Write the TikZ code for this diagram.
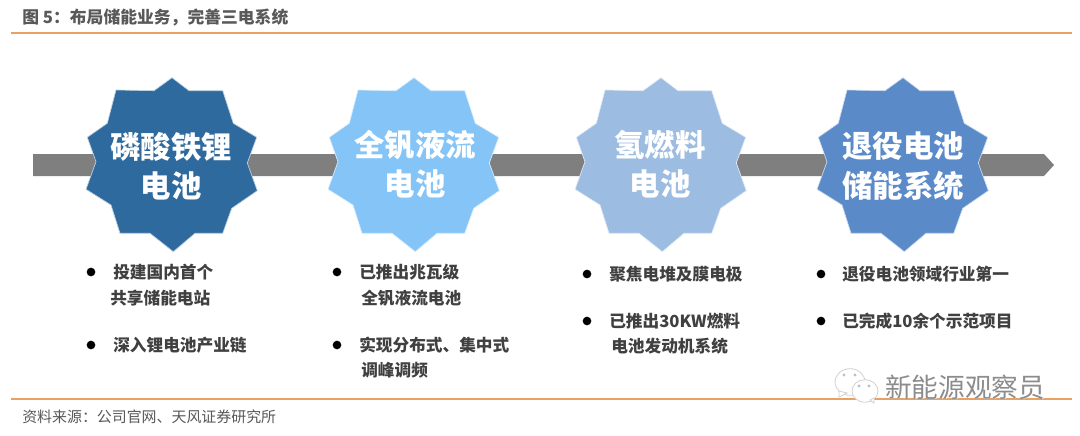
\documentclass[tikz,border=0pt]{standalone}
\usepackage{fontspec}
\setmainfont{Noto Sans CJK SC}
\usetikzlibrary{shapes.geometric}
\definecolor{ruleor}{HTML}{E9A063}
\definecolor{barg}{HTML}{7F7F7F}
\definecolor{txtg}{HTML}{404040}
\definecolor{capg}{HTML}{595959}
\definecolor{sa}{HTML}{2E6A9E}
\definecolor{sb}{HTML}{85C4F7}
\definecolor{sc}{HTML}{9DBCE2}
\definecolor{sd}{HTML}{5B8AC9}
\newcommand{\mystar}[2]{%
\fill[#2,draw=white!70!#2,line width=0.5pt,shift={(#1,0)}]
 (0,77.7)--(17,90.7)--(50.7,90.7)--(61.3,123.3)--(84.7,137.3)--(75.3,163)--(85.3,190.7)--(59.7,208.3)--(50.7,233.3)--(23,233.3)--(1.3,251.7)--(-22,233.3)--(-52,233.3)--(-61,205)--(-86,189.3)--(-76,161.7)--(-84.7,137.3)--(-64.7,123.3)--(-56,90)--(-18,90.7)--cycle;}
\tikzset{
 x=0.75pt,y=-0.75pt,
 startext/.style={white,font=\fontsize{22.8pt}{29.5pt}\selectfont\bfseries,align=center,inner sep=0pt},
 bodytext/.style={txtg,font=\fontsize{12.5pt}{18pt}\selectfont\bfseries,anchor=west,align=left,inner sep=0pt},
 bulletdot/.style={circle,fill=black,inner sep=0pt,minimum size=6.5pt},
 rulel/.style={ruleor,line width=1.4pt},
 wm/.style={font=\fontsize{20pt}{20pt}\selectfont,inner sep=0pt},
 bubble/.style={ellipse,draw=black!18,fill=white,line width=0.6pt,inner sep=0pt},
}
\begin{document}
\begin{tikzpicture}
\useasboundingbox (0,0) rectangle (1080,435);
\fill[white] (0,0) rectangle (1080,435);
% title
\node[anchor=west,inner sep=0pt,capg,font=\fontsize{12.6pt}{14pt}\selectfont\bfseries] (title) at (22,18) {图 5：布局储能业务，完善三电系统};
\coordinate (t1) at (11,33); \coordinate (t2) at (1072,33);
\draw[rulel] (t1)--(t2);
% bar
\fill[barg] (33,154)--(1044,154)--(1054,165)--(1044,176)--(33,176)--cycle;
% stars
\mystar{172}{sa}
\mystar{414}{sb}
\mystar{661}{sc}
\mystar{903}{sd}
\node[startext] (s1) at (171,166) {磷酸铁锂\\电池};
\node[startext] (s2) at (415,164) {全钒液流\\电池};
\node[startext] (s3) at (660,164) {氢燃料\\电池};
\node[startext] (s4) at (903,166) {退役电池\\储能系统};
% bullets
\node[bulletdot] (b1) at (91,272) {};
\node[bodytext] (l1) at (113,272) {投建国内首个};
\node[bodytext] (l1b) at (110,298) {共享储能电站};
\node[bulletdot] (b2) at (91,345) {};
\node[bodytext] (l2) at (113,345) {深入锂电池产业链};
\node[bulletdot] (b3) at (337,272) {};
\node[bodytext] (l3) at (359,272) {已推出兆瓦级};
\node[bodytext] (l3b) at (361,298) {全钒液流电池};
\node[bulletdot] (b4) at (337,345) {};
\node[bodytext] (l4) at (359,345) {实现分布式、集中式};
\node[bodytext] (l4b) at (361,370) {调峰调频};
\node[bulletdot] (b5) at (587,274) {};
\node[bodytext] (l5) at (609,274) {聚焦电堆及膜电极};
\node[bulletdot] (b6) at (587,321) {};
\node[bodytext] (l6) at (609,321) {已推出30KW燃料};
\node[bodytext] (l6b) at (611,346) {电池发动机系统};
\node[bulletdot] (b7) at (821,274) {};
\node[bodytext] (l7) at (842,274) {退役电池领域行业第一};
\node[bulletdot] (b8) at (821,321) {};
\node[bodytext] (l8) at (842,321) {已完成10余个示范项目};
% bottom rule and watermark
\coordinate (r1) at (11,399); \coordinate (r2) at (1072,399);
\draw[rulel] (r1)--(r2);
\node[bubble,minimum width=22.5pt,minimum height=20pt] (w1) at (850,382) {};
\fill[white,draw=black!18,line width=0.6pt] (839,391)--(839,397)--(847,393)--cycle;
\node[bubble,minimum width=19.5pt,minimum height=17pt] (w2) at (865,391) {};
\fill[white,draw=black!18,line width=0.6pt] (870,400)--(874,403)--(874,398)--cycle;
\foreach \p in {(844,375),(855,375),(859,386),(869,386)} \fill[black!25] \p circle (1.7);
\node[wm,white,anchor=west] (wm2) at (885.7,387.7) {新能源观察员};
\node[wm,black!45,anchor=west] (wm1) at (885,387) {新能源观察员};
% source
\node[anchor=west,inner sep=0pt,capg,font=\fontsize{11.2pt}{13pt}\selectfont] (src) at (22,417) {资料来源：公司官网、天风证券研究所};
\end{tikzpicture}
\end{document}
